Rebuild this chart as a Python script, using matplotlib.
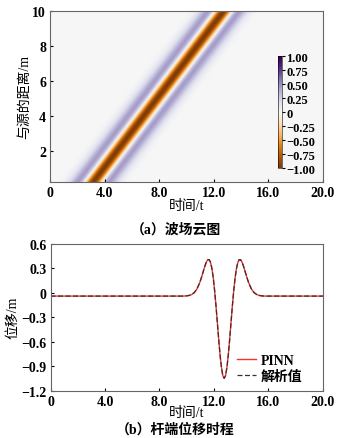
import numpy as np
import matplotlib
matplotlib.use("Agg")
import matplotlib.pyplot as plt

plt.rcParams['font.family'] = ['Liberation Serif', 'Noto Sans CJK SC']
plt.rcParams['font.weight'] = 'bold'
plt.rcParams['axes.unicode_minus'] = True

# pulse shape (offset from trough centre, displacement)
pulse_tau = [-3.0, -2.8, -2.6, -2.4, -2.2, -2.0, -1.8, -1.7, -1.6, -1.5, -1.4, -1.3,
             -1.2, -1.1, -1.0, -0.9, -0.8, -0.7, -0.6, -0.5, -0.4, -0.3, -0.2, -0.1,
             0.0, 0.1, 0.2, 0.3, 0.4, 0.5, 0.6, 0.7, 0.8, 0.9, 1.0, 1.1, 1.2,
             1.3, 1.4, 1.5, 1.6, 1.7, 1.8, 2.0, 2.2, 2.4, 2.6, 2.8, 3.0]
pulse_u = [0.0, 0.002, 0.007, 0.018, 0.042, 0.087, 0.163, 0.212, 0.266, 0.323, 0.377, 0.421,
           0.447, 0.447, 0.412, 0.337, 0.221, 0.065, -0.123, -0.329, -0.537, -0.726, -0.878, -0.976,
           -1.01, -0.976, -0.878, -0.726, -0.537, -0.329, -0.123, 0.065, 0.221, 0.337, 0.412, 0.447, 0.447,
           0.421, 0.377, 0.323, 0.266, 0.212, 0.163, 0.087, 0.042, 0.018, 0.007, 0.002, 0.0]

# arrival time of the trough vs. distance from source
arrival_y = [0.2, 2.0, 4.0, 6.0, 8.0, 10.0]
arrival_t = [3.2, 4.95, 6.9, 8.85, 10.8, 12.75]

# rod-end trace
trace_baseline = -0.04
trace_center = 12.75
t_start, t_end = 0.0, 20.0

x_ticks = [0, 4, 8, 12, 16, 20]
x_labels = ["0", "4.0", "8.0", "12.0", "16.0", "20.0"]
y2_ticks = [0.6, 0.3, 0, -0.3, -0.6, -0.9, -1.2]
y2_labels = ["0.6", "0.3", "0", "\u22120.3", "\u22120.6", "\u22120.9", "\u22121.2"]
cb_ticks = [1.0, 0.75, 0.5, 0.25, 0, -0.25, -0.5, -0.75, -1.0]
cb_labels = ["1.00", "0.75", "0.50", "0.25", "0", "\u22120.25", "\u22120.50", "\u22120.75", "\u22121.00"]

fs = 10
fig = plt.figure(figsize=(3.51, 4.39), dpi=100)

# (a) wave field
ax1 = fig.add_axes([0.143, 0.583, 0.777, 0.39])
tt = np.linspace(0, 20, 501)
yy = np.linspace(0.2, 10, 120)
field = np.array([np.interp(tt - np.interp(y, arrival_y, arrival_t), pulse_tau, pulse_u,
                            left=0, right=0) for y in yy])
im = ax1.imshow(field, extent=[0, 20, 0.2, 10], origin='lower', aspect='auto',
                cmap='PuOr', vmin=-1, vmax=1, interpolation='bilinear')
ax1.set_xlim(0, 20)
ax1.set_ylim(0.2, 10)
ax1.set_xticks(x_ticks)
ax1.set_xticklabels(x_labels)
ax1.set_yticks([2, 4, 6, 8, 10])
ax1.tick_params(direction='in', labelsize=fs, length=2.5, pad=3)
ax1.set_xlabel("时间/t", fontsize=fs, labelpad=0)
ax1.set_ylabel("与源的距离/m", fontsize=fs, labelpad=1)

cax = fig.add_axes([0.792, 0.615, 0.012, 0.255])
cb = fig.colorbar(im, cax=cax, ticks=cb_ticks)
cb.ax.set_yticklabels(cb_labels)
cb.ax.tick_params(labelsize=9, length=2, pad=1)
cb.outline.set_linewidth(0.4)

fig.text(0.5, 0.476, "（a）波场云图", ha='center', va='center', fontsize=fs)

# (b) rod-end displacement
ax2 = fig.add_axes([0.144, 0.108, 0.776, 0.334])
trace_t = np.concatenate([[t_start], np.array(pulse_tau) + trace_center, [t_end]])
trace_u = np.concatenate([[0.0], pulse_u, [0.0]]) + trace_baseline
ax2.plot(trace_t, trace_u, color='#ff3030', lw=1.0, label="PINN")
ax2.plot(trace_t, trace_u, color='#333333', lw=0.9, ls=(0, (4, 2)), label="解析值")
ax2.set_xlim(0, 20)
ax2.set_ylim(-1.2, 0.6)
ax2.set_xticks(x_ticks)
ax2.set_xticklabels(x_labels)
ax2.set_yticks(y2_ticks)
ax2.set_yticklabels(y2_labels)
ax2.tick_params(direction='in', labelsize=fs, length=2.5, pad=3)
ax2.set_xlabel("时间/t", fontsize=fs, labelpad=-1)
ax2.set_ylabel("位移/m", fontsize=fs, labelpad=1)
ax2.legend(loc='lower right', bbox_to_anchor=(0.97, -0.03), frameon=False,
           fontsize=fs, handlelength=1.4, handletextpad=0.3, labelspacing=0.15)

fig.text(0.5, 0.022, "（b）杆端位移时程", ha='center', va='center', fontsize=fs)

for ax in (ax1, ax2):
    for s in ax.spines.values():
        s.set_color('#666666')
        s.set_linewidth(0.8)

fig.savefig("out.png", dpi=100)
